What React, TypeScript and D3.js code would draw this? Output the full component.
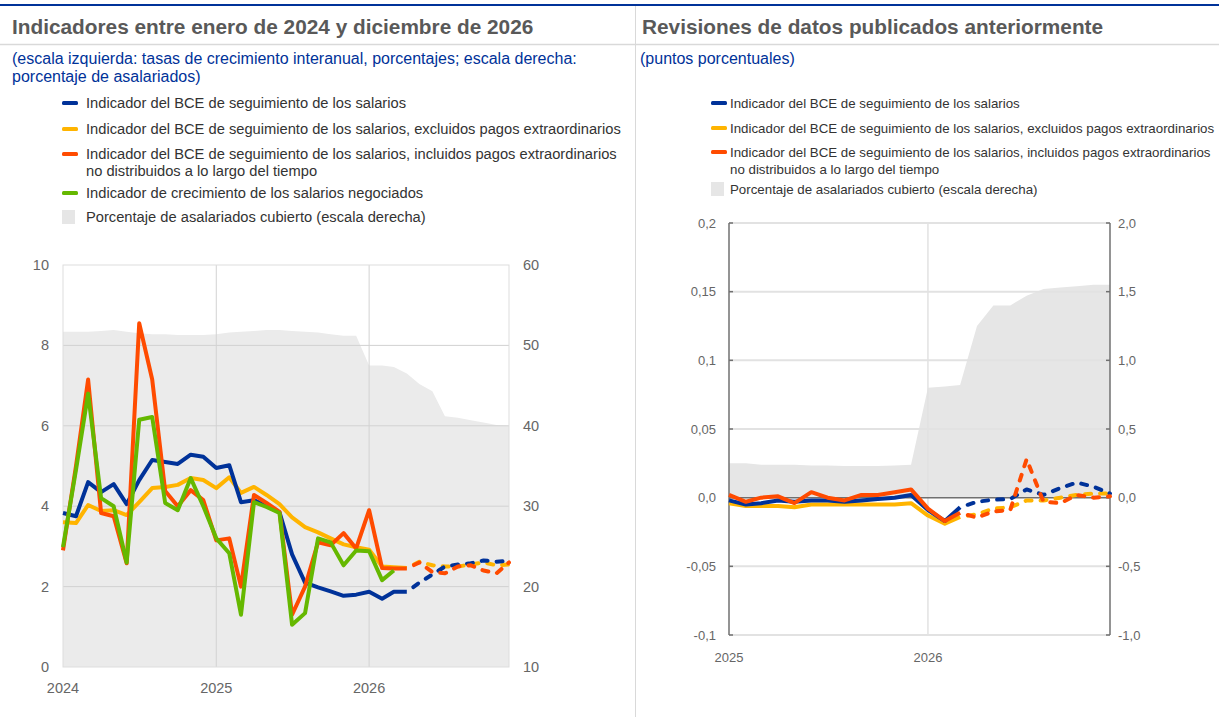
import * as d3 from "d3";

// ---- data: left panel (monthly, Jan 2024 - Dec 2026) ----
const monthsL = d3.timeMonth.range(new Date(2024, 0, 1), new Date(2027, 0, 1));
const trackerL = [3.83, 3.75, 4.6, 4.35, 4.55, 4.05, 4.65, 5.15, 5.1, 5.05, 5.28, 5.23,
  4.95, 5.02, 4.1, 4.15, 4.0, 3.85, 2.8, 2.1, 1.98, 1.88, 1.77, 1.8,
  1.87, 1.7, 1.87, 1.87, 2.1, 2.3, 2.5, 2.55, 2.58, 2.65, 2.62, 2.64];
const exclL = [3.6, 3.58, 4.03, 3.88, 3.9, 3.78, 4.1, 4.45, 4.48, 4.53, 4.7, 4.65,
  4.45, 4.72, 4.33, 4.48, 4.28, 4.05, 3.72, 3.48, 3.35, 3.2, 3.05, 2.98,
  2.92, 2.5, 2.48, 2.46, 2.62, 2.53, 2.5, 2.5, 2.55, 2.6, 2.53, 2.55];
const inclL = [2.9, 5.0, 7.15, 3.83, 3.75, 2.58, 8.55, 7.15, 4.38, 4.0, 4.4, 4.15,
  3.15, 3.2, 2.0, 4.28, 4.08, 3.86, 1.3, 2.0, 3.1, 3.03, 3.33, 2.95,
  3.9, 2.46, 2.45, 2.45, 2.6, 2.36, 2.33, 2.5, 2.53, 2.4, 2.33, 2.6];
const negotiatedL = [2.98, 4.9, 6.8, 4.2, 4.0, 2.6, 6.15, 6.22, 4.08, 3.9, 4.7, 4.0,
  3.2, 2.83, 1.3, 4.1, 3.98, 3.83, 1.05, 1.34, 3.2, 3.1, 2.53, 2.9,
  2.88, 2.16, 2.4];
const coverageL = [51.7, 51.7, 51.7, 51.8, 51.9, 51.7, 51.5, 51.4, 51.4, 51.3, 51.3, 51.3,
  51.4, 51.6, 51.7, 51.8, 51.9, 51.9, 51.8, 51.7, 51.6, 51.4, 51.2, 51.2,
  47.5, 47.5, 47.3, 46.5, 45.2, 44.3, 41.2, 41.0, 40.7, 40.4, 40.1, 40.0];
const dashFromL = 27; // Apr 2026
const ticksL = [0, 2, 4, 6, 8, 10];
const ticksL2 = [10, 20, 30, 40, 50, 60];
const yearsL = [2024, 2025, 2026];

// ---- data: right panel (monthly, Jan 2025 - Dec 2026) ----
const monthsR = d3.timeMonth.range(new Date(2025, 0, 1), new Date(2027, 0, 1));
const trackerR = [-0.002, -0.005, -0.004, -0.002, -0.003, -0.002, -0.002, -0.003, -0.002, -0.001, 0.0, 0.002,
  -0.009, -0.017, -0.007, -0.003, -0.0015, -0.001, 0.006, 0.002, 0.007, 0.011, 0.008, 0.003];
const exclR = [-0.004, -0.006, -0.006, -0.006, -0.007, -0.005, -0.005, -0.005, -0.005, -0.005, -0.005, -0.004,
  -0.013, -0.019, -0.014, -0.012, -0.008, -0.007, -0.002, -0.002, 0.0, 0.002, 0.003, 0.003];
const inclR = [0.002, -0.003, 0.0, 0.001, -0.004, 0.004, 0.0, -0.002, 0.002, 0.002, 0.004, 0.006,
  -0.008, -0.017, -0.011, -0.0145, -0.01, -0.009, 0.028, -0.003, -0.004, 0.002, 0.0, 0.001];
const coverageR = [0.25, 0.25, 0.24, 0.24, 0.24, 0.235, 0.235, 0.23, 0.23, 0.23, 0.235, 0.24,
  0.8, 0.81, 0.82, 1.25, 1.4, 1.4, 1.47, 1.52, 1.53, 1.54, 1.55, 1.55];
const dashFromR = 14; // Mar 2026
const ticksR = [-0.1, -0.05, 0, 0.05, 0.1, 0.15, 0.2];
const ticksR2 = [-1, -0.5, 0, 0.5, 1, 1.5, 2];
const yearsR = [2025, 2026];

const legendL = [
  { color: "#003299", lines: ["Indicador del BCE de seguimiento de los salarios"] },
  { color: "#ffb400", lines: ["Indicador del BCE de seguimiento de los salarios, excluidos pagos extraordinarios"] },
  { color: "#ff4b00", lines: ["Indicador del BCE de seguimiento de los salarios, incluidos pagos extraordinarios", "no distribuidos a lo largo del tiempo"] },
  { color: "#65b800", lines: ["Indicador de crecimiento de los salarios negociados"] },
  { color: "#e6e6e6", lines: ["Porcentaje de asalariados cubierto (escala derecha)"], box: true },
];
const legendR = legendL.filter((d, i) => i !== 3);

const BLUE = "#003299", YELLOW = "#ffb400", ORANGE = "#ff4b00", GREEN = "#65b800";
const FONT = "'Liberation Sans', Arial, sans-serif";
const fmt = (v: number, dec: number) => v.toFixed(dec).replace(".", ",");

function Series({ months, values, x, y, color, dashFrom, width }: any) {
  const pts = values.map((v: number, i: number) => ({ d: months[i], v }));
  const line = d3.line<any>().x((p) => x(p.d)).y((p) => y(p.v));
  const solid = pts.slice(0, Math.min(dashFrom + 1, pts.length));
  const dashed = pts.length > dashFrom ? pts.slice(dashFrom) : [];
  return (
    <g fill="none" stroke={color} strokeWidth={width} strokeLinejoin="round">
      <path d={line(solid) || ""} />
      {dashed.length > 1 && <path d={line(dashed) || ""} strokeDasharray="6,9" strokeDashoffset={-8} strokeLinecap="round" />}
    </g>
  );
}

function Legend({ items, x, rows, size, gap }: any) {
  return (
    <g fontFamily={FONT} fontSize={size} fill="#333">
      {items.map((it: any, i: number) => (
        <g key={i}>
          {it.box
            ? <rect x={x} y={rows[i] - 7} width={13} height={14} fill={it.color} />
            : <rect x={x} y={rows[i] - 2} width={16} height={4} rx={1.5} fill={it.color} />}
          {it.lines.map((t: string, j: number) => (
            <text key={j} x={x + gap} y={rows[i] + j * 17} dy="0.35em">{t}</text>
          ))}
        </g>
      ))}
    </g>
  );
}

export default function App() {
  // left scales
  const xL = d3.scaleTime().domain([monthsL[0], monthsL[monthsL.length - 1]]).range([63, 509]);
  const yL = d3.scaleLinear().domain([0, 10]).range([667, 265]);
  const yL2 = d3.scaleLinear().domain([10, 60]).range([667, 265]);
  const areaL = d3.area<number>().x((_, i) => xL(monthsL[i])).y0(yL2(10)).y1((v) => yL2(v));

  // right scales
  const xR = d3.scaleTime().domain([monthsR[0], monthsR[monthsR.length - 1]]).range([729, 1110]);
  const yR = d3.scaleLinear().domain([-0.1, 0.2]).range([635, 223]);
  const yR2 = d3.scaleLinear().domain([-1, 2]).range([635, 223]);
  const areaR = d3.area<number>().x((_, i) => xR(monthsR[i])).y0(yR2(0)).y1((v) => yR2(v));

  const [l0, l1] = xL.range();
  const [r0, r1] = xR.range();

  return (
    <div style={{ position: "absolute", left: 0, top: 0 }}>
      <svg width={1219} height={717} style={{ display: "block", background: "#fff" }}>
        {/* header */}
        <rect x={0} y={4} width={1219} height={2} fill={BLUE} />
        <line x1={0} x2={1219} y1={44.5} y2={44.5} stroke="#d9d9d9" strokeWidth={1.5} />
        <line x1={635.5} x2={635.5} y1={6} y2={717} stroke="#d9d9d9" strokeWidth={1} />
        <g fontFamily={FONT} fontWeight="bold" fontSize={20.8} fill="#595959">
          <text x={12} y={34}>Indicadores entre enero de 2024 y diciembre de 2026</text>
          <text x={642} y={34}>Revisiones de datos publicados anteriormente</text>
        </g>
        <g fontFamily={FONT} fontSize={16} fill={BLUE}>
          <text x={12} y={58} dy="0.35em">(escala izquierda: tasas de crecimiento interanual, porcentajes; escala derecha:</text>
          <text x={12} y={76} dy="0.35em">porcentaje de asalariados)</text>
          <text x={640} y={58} dy="0.35em">(puntos porcentuales)</text>
        </g>

        <Legend items={legendL} x={62} rows={[103, 129, 154, 193, 217]} size={14.7} gap={24} />
        <Legend items={legendR} x={711} rows={[103, 128, 152, 189]} size={13.3} gap={19} />

        {/* ---------- left chart ---------- */}
        <path d={areaL(coverageL) || ""} fill="#ebebeb" />
        <g stroke="#d2d2d2" strokeWidth={1}>
          {ticksL.filter((t) => t > 0 && t < 10).map((t) => (
            <line key={t} x1={l0} x2={l1} y1={yL(t)} y2={yL(t)} />
          ))}
          {yearsL.slice(1).map((yr) => (
            <line key={yr} x1={xL(new Date(yr, 0, 1))} x2={xL(new Date(yr, 0, 1))} y1={yL(10)} y2={yL(0)} />
          ))}
        </g>
        <rect x={l0} y={yL(10)} width={l1 - l0} height={yL(0) - yL(10)} fill="none" stroke="#dddddd" strokeWidth={1} />
        <Series months={monthsL} values={exclL} x={xL} y={yL} color={YELLOW} dashFrom={dashFromL} width={4} />
        <Series months={monthsL} values={trackerL} x={xL} y={yL} color={BLUE} dashFrom={dashFromL} width={4} />
        <Series months={monthsL} values={inclL} x={xL} y={yL} color={ORANGE} dashFrom={dashFromL} width={4} />
        <Series months={monthsL} values={negotiatedL} x={xL} y={yL} color={GREEN} dashFrom={99} width={4} />
        <g fontFamily={FONT} fontSize={14.5} fill="#666">
          {ticksL.map((t) => (
            <text key={t} x={49} y={yL(t)} dy="0.35em" textAnchor="end">{t}</text>
          ))}
          {ticksL2.map((t) => (
            <text key={t} x={523} y={yL2(t)} dy="0.35em">{t}</text>
          ))}
          {yearsL.map((yr) => (
            <text key={yr} x={xL(new Date(yr, 0, 1))} y={688} dy="0.35em" textAnchor="middle">{yr}</text>
          ))}
        </g>

        {/* ---------- right chart ---------- */}
        <path d={areaR(coverageR) || ""} fill="#e6e6e6" />
        <g stroke="#e2e2e2" strokeWidth={2}>
          {ticksR.filter((t) => t !== 0).map((t) => (
            <line key={t} x1={r0} x2={r1} y1={yR(t)} y2={yR(t)} />
          ))}
          <line x1={xR(new Date(2026, 0, 1))} x2={xR(new Date(2026, 0, 1))} y1={yR(0.2)} y2={yR(-0.1)} strokeWidth={1.5} />
        </g>
        <line x1={r0} x2={r1} y1={yR(0)} y2={yR(0)} stroke="#707070" strokeWidth={1.5} />
        <g stroke="#707070" strokeWidth={1.5}>
          <line x1={r0} x2={r0} y1={yR(0.2)} y2={yR(-0.1)} />
          <line x1={r1} x2={r1} y1={yR(0.2)} y2={yR(-0.1)} />
          {ticksR.map((t) => (
            <g key={t}>
              <line x1={r0} x2={r0 + 4} y1={yR(t)} y2={yR(t)} />
              <line x1={r1 - 4} x2={r1} y1={yR(t)} y2={yR(t)} />
            </g>
          ))}
        </g>
        <Series months={monthsR} values={exclR} x={xR} y={yR} color={YELLOW} dashFrom={dashFromR} width={4} />
        <Series months={monthsR} values={trackerR} x={xR} y={yR} color={BLUE} dashFrom={dashFromR} width={4} />
        <Series months={monthsR} values={inclR} x={xR} y={yR} color={ORANGE} dashFrom={dashFromR} width={4} />
        <g fontFamily={FONT} fontSize={13} fill="#666">
          {ticksR.map((t) => (
            <text key={t} x={716} y={yR(t)} dy="0.35em" textAnchor="end">
              {t === 0 ? "0,0" : t === 0.1 || t === 0.2 || t === -0.1 ? fmt(t, 1) : fmt(t, 2)}
            </text>
          ))}
          {ticksR2.map((t) => (
            <text key={t} x={1118} y={yR2(t)} dy="0.35em">{fmt(t, 1)}</text>
          ))}
          {yearsR.map((yr) => (
            <text key={yr} x={xR(new Date(yr, 0, 1))} y={657} dy="0.35em" textAnchor="middle">{yr}</text>
          ))}
        </g>
      </svg>
    </div>
  );
}
